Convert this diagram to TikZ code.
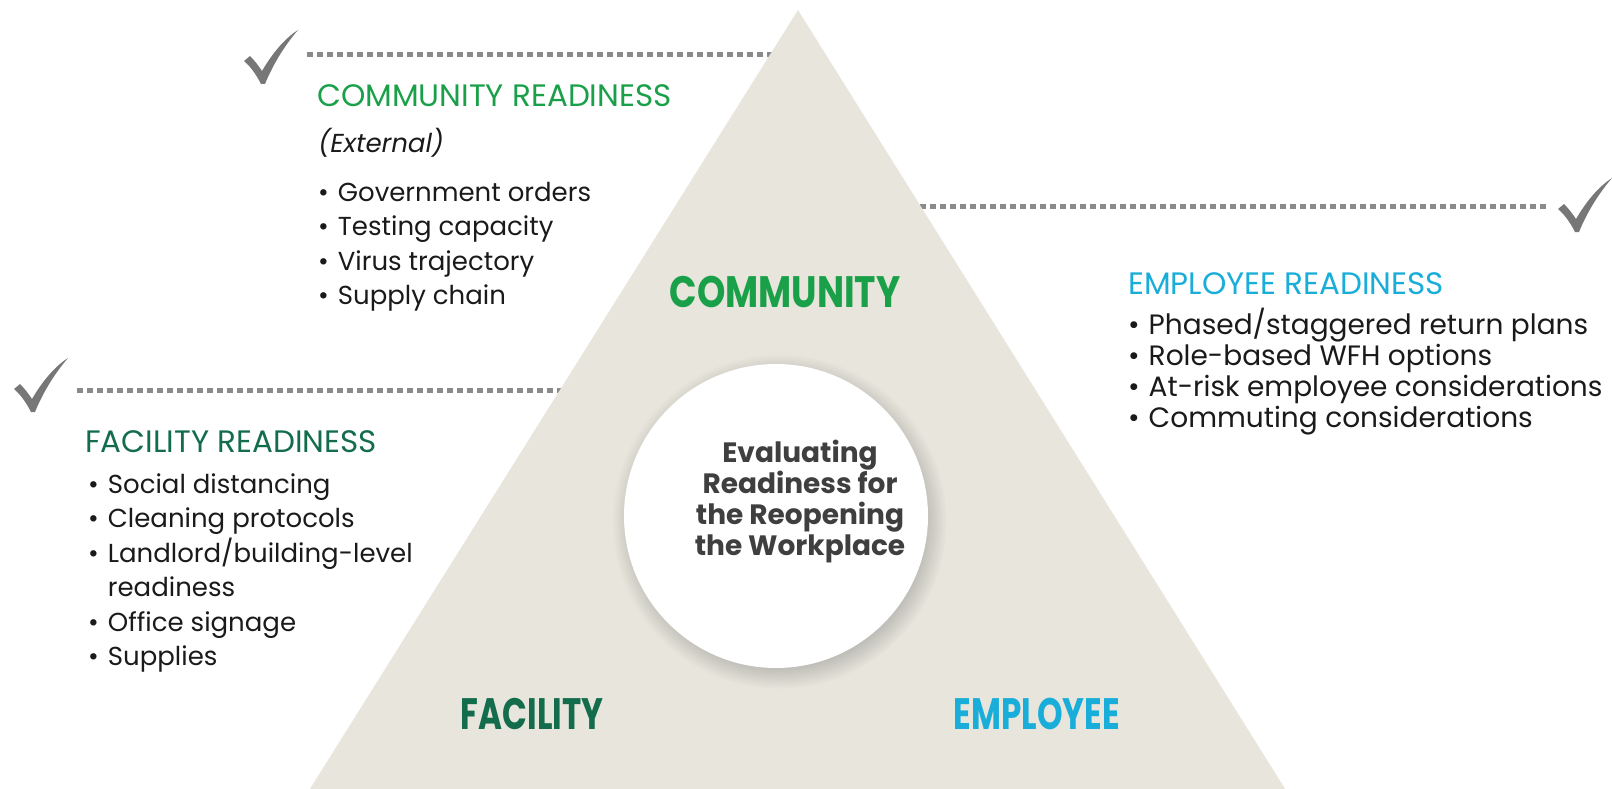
\documentclass[tikz,border=0pt]{standalone}
\usepackage{fontspec}
\setmainfont{Poppins}
\newfontfamily\itfam[FakeSlant=0.18]{Poppins}
\usetikzlibrary{shadows}
\definecolor{tri}{HTML}{E8E6DC}
\definecolor{cgreen}{HTML}{1BA04A}
\definecolor{fgreen}{HTML}{136C4C}
\definecolor{ecyan}{HTML}{19ADD9}
\definecolor{bodytxt}{HTML}{1A1A1A}
\definecolor{hubtxt}{HTML}{3F3F3F}
\definecolor{markgray}{HTML}{777777}
\definecolor{dotgray}{HTML}{8A8A8A}
\tikzset{
  hdr/.style={inner sep=0pt, anchor=base west, font=\fontsize{31}{36}\selectfont},
  body/.style={inner sep=0pt, anchor=base west, text=bodytxt, font=\fontsize{26}{34.5}\selectfont},
  ebody/.style={inner sep=0pt, anchor=base west, text=bodytxt, font=\fontsize{28}{31}\selectfont},
  lbl/.style={inner sep=0pt, font=\bfseries\fontsize{44}{46}\selectfont},
  dotline/.style={draw=dotgray, line width=5pt, dash pattern=on 6pt off 4pt},
  chk/.pic={\fill[markgray] (0,31) -- (6,26) .. controls (10,30) and (14,35) .. (18,41)
     .. controls (28,24) and (40,9) .. (54,0) .. controls (42,14) and (30,32) .. (21,54)
     -- (17,54) .. controls (12,44) and (6,36) .. (0,31) -- cycle;}
}
\begin{document}
\begin{tikzpicture}[x=1pt,y=-1pt]
\useasboundingbox (0,0) rectangle (1612,789);
\fill[white] (0,0) rectangle (1612,789);
% dotted lines (under the triangle)
\coordinate (d1a) at (307,55);  \coordinate (d1b) at (800,55);
\coordinate (d2a) at (77,390);  \coordinate (d2b) at (600,390);
\coordinate (d3a) at (850,206); \coordinate (d3b) at (1548,206);
\draw[dotline] (d1a) -- (d1b);
\draw[dotline] (d2a) -- (d2b);
\draw[dotline] (d3a) -- (d3b);
% checkmarks
\pic (m1) at (244,30) {chk};
\pic (m2) at (14,358) {chk};
\pic (m3) at (1558,178) {chk};
% triangle
\fill[tri] (798,10) -- (1292,800) -- (303,800) -- cycle;
% hub circle
\node[circle, fill=white, minimum size=304pt, inner sep=0pt,
      circular drop shadow={shadow xshift=3pt, shadow yshift=-5pt, opacity=0.45}] (hub) at (776,516) {};
\node[inner sep=0pt, align=center, text=hubtxt, font=\bfseries\fontsize{28}{31}\selectfont] (hubt) at (800,502)
  {Evaluating\\Readiness for\\the Reopening\\the Workplace};
% corner labels
\node[lbl, text=cgreen] (lcom) at (785,292) {\scalebox{0.82}[1]{COMMUNITY}};
\node[lbl, text=fgreen] (lfac) at (532,714) {\scalebox{0.74}[1]{FACILITY}};
\node[lbl, text=ecyan] (lemp) at (1037,714) {\scalebox{0.74}[1]{EMPLOYEE}};
% community block
\node[hdr, text=cgreen] (chead) at (317,107) {COMMUNITY READINESS};
\node[body] (cext) at (317,153) {\itfam(External)};
\node[body] (clist) at (318,201) {\begin{tabular}[t]{@{}l@{\hspace{9pt}}l@{}}
  • & Government orders\\ • & Testing capacity\\ • & Virus trajectory\\ • & Supply chain\end{tabular}};
% facility block
\node[hdr, text=fgreen] (fhead) at (85,452) {FACILITY READINESS};
\node[body] (flist) at (88,493) {\begin{tabular}[t]{@{}l@{\hspace{9pt}}l@{}}
  • & Social distancing\\ • & Cleaning protocols\\ • & Landlord/building-level\\ & readiness\\ • & Office signage\\ • & Supplies\end{tabular}};
% employee block
\node[hdr, text=ecyan] (ehead) at (1128,294) {EMPLOYEE READINESS};
\node[ebody] (elist) at (1128,334) {\begin{tabular}[t]{@{}l@{\hspace{9pt}}l@{}}
  • & Phased/staggered return plans\\ • & Role-based WFH options\\ • & At-risk employee considerations\\ • & Commuting considerations\end{tabular}};
\end{tikzpicture}
\end{document}
